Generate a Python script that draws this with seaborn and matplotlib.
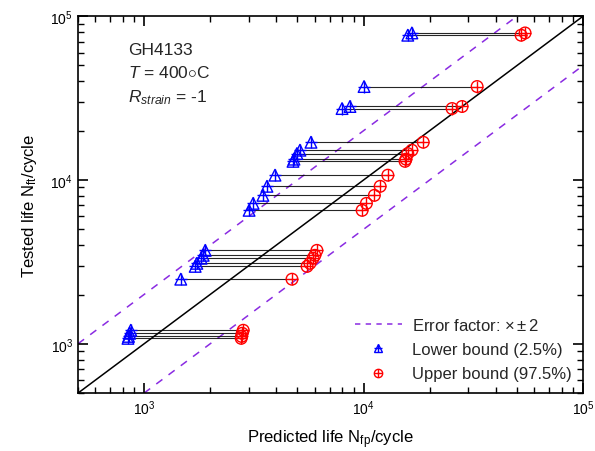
import numpy as np
import matplotlib
matplotlib.use('Agg')
import matplotlib.pyplot as plt
from matplotlib.markers import MarkerStyle
from matplotlib.lines import Line2D
import seaborn as sns

# 试验寿命 (tested life) 与预测寿命下/上界
tested = [79000, 76500, 37200, 28100, 27300, 17000, 15200, 14500, 13400, 13000,
          10700, 9150, 8060, 7200, 6530, 3720, 3470, 3330, 3100, 2970,
          2480, 1210, 1160, 1110, 1080]
lower = [16600, 15900, 10050, 8670, 7980, 5760, 5130, 4970, 4820, 4770,
         3950, 3630, 3480, 3140, 3010, 1900, 1860, 1820, 1740, 1710,
         1470, 870, 860, 850, 845]
upper = [54400, 52200, 32900, 28100, 25300, 18700, 16600, 15900, 15600, 15450,
         12900, 11900, 11200, 10300, 9850, 6130, 6000, 5890, 5700, 5530,
         4720, 2830, 2800, 2780, 2770]

lims = [500, 100000]
factor = 2

sns.set_style('ticks')
plt.rcParams['font.family'] = ['Liberation Sans', 'DejaVu Sans']
plt.rcParams['mathtext.fontset'] = 'custom'
plt.rcParams['mathtext.rm'] = 'Liberation Sans'
plt.rcParams['mathtext.it'] = 'Liberation Sans:italic'
plt.rcParams['axes.axisbelow'] = False

fig = plt.figure(figsize=(5.95, 4.52), dpi=100)
ax = fig.add_axes([0.131, 0.128, 0.849, 0.834])
ax.set_xscale('log')
ax.set_yscale('log')

purple = '#8A2BE2'
# 1:1 line and error band
ax.plot(lims, lims, color='k', lw=1.1, zorder=2)
ax.plot([lims[0], lims[1] / factor], [lims[0] * factor, lims[1]], ls=(0, (5, 5)), color=purple, lw=1.1, zorder=2)
ax.plot([lims[0] * factor, lims[1]], [lims[0], lims[1] / factor], ls=(0, (5, 5)), color=purple, lw=1.1, zorder=2)

ax.hlines(tested, lower, upper, color='k', lw=0.8, alpha=0.85, zorder=3)

tri = MarkerStyle('^', fillstyle='none')
circ = MarkerStyle('o', fillstyle='none')
sns.scatterplot(x=lower, y=tested, marker=tri, s=70, color='blue', linewidth=1, ax=ax, zorder=4)
sns.scatterplot(x=lower, y=tested, marker='+', s=70, color='blue', linewidth=1, ax=ax, zorder=4)
sns.scatterplot(x=upper, y=tested, marker=circ, s=70, color='red', linewidth=1, ax=ax, zorder=4)
sns.scatterplot(x=upper, y=tested, marker='+', s=70, color='red', linewidth=1, ax=ax, zorder=4)

ax.set_xlim(lims)
ax.set_ylim(lims)
ax.xaxis.set_minor_locator(matplotlib.ticker.LogLocator(base=10, subs=np.arange(2, 10), numticks=20))
ax.yaxis.set_minor_locator(matplotlib.ticker.LogLocator(base=10, subs=np.arange(2, 10), numticks=20))
ax.xaxis.set_minor_formatter(matplotlib.ticker.NullFormatter())
ax.yaxis.set_minor_formatter(matplotlib.ticker.NullFormatter())
ax.tick_params(which='both', direction='in', top=True, right=True, bottom=True, left=True,
               labelsize=10, color='k', labelcolor='k')
ax.tick_params(which='major', length=7, width=1.2)
ax.tick_params(which='minor', length=4, width=1.0)
for s in ax.spines.values():
    s.set_linewidth(1.2)
    s.set_color('k')

ax.set_xlabel(r'Predicted life N$_\mathregular{fp}$/cycle', fontsize=12, labelpad=8, color='k')
ax.set_ylabel(r'Tested life N$_\mathregular{ft}$/cycle', fontsize=12, labelpad=8, color='k')

ax.text(0.10, 0.912, 'GH4133', transform=ax.transAxes, fontsize=12.5, va='center')
ax.text(0.10, 0.851, r'$T$ = 400$\circ$C', transform=ax.transAxes, fontsize=12.5, va='center')
ax.text(0.10, 0.787, r'$R_{strain}$ = -1', transform=ax.transAxes, fontsize=12.5, va='center')

h_err = Line2D([], [], ls=(0, (3.5, 3.5)), color=purple, lw=1.1)
h_low = (Line2D([], [], ls='', marker=tri, color='blue', ms=6, mew=1),
         Line2D([], [], ls='', marker='+', color='blue', ms=6, mew=1))
h_up = (Line2D([], [], ls='', marker=circ, color='red', ms=6, mew=1),
        Line2D([], [], ls='', marker='+', color='red', ms=6, mew=1))
ax.legend([h_err, h_low, h_up], [r'Error factor: $\times\pm$2', 'Lower bound (2.5%)', 'Upper bound (97.5%)'],
          loc='lower right', frameon=False, fontsize=12, handlelength=2.8, labelspacing=0.55,
          handletextpad=0.6, borderaxespad=0.3)

fig.savefig('out.png', dpi=100)
